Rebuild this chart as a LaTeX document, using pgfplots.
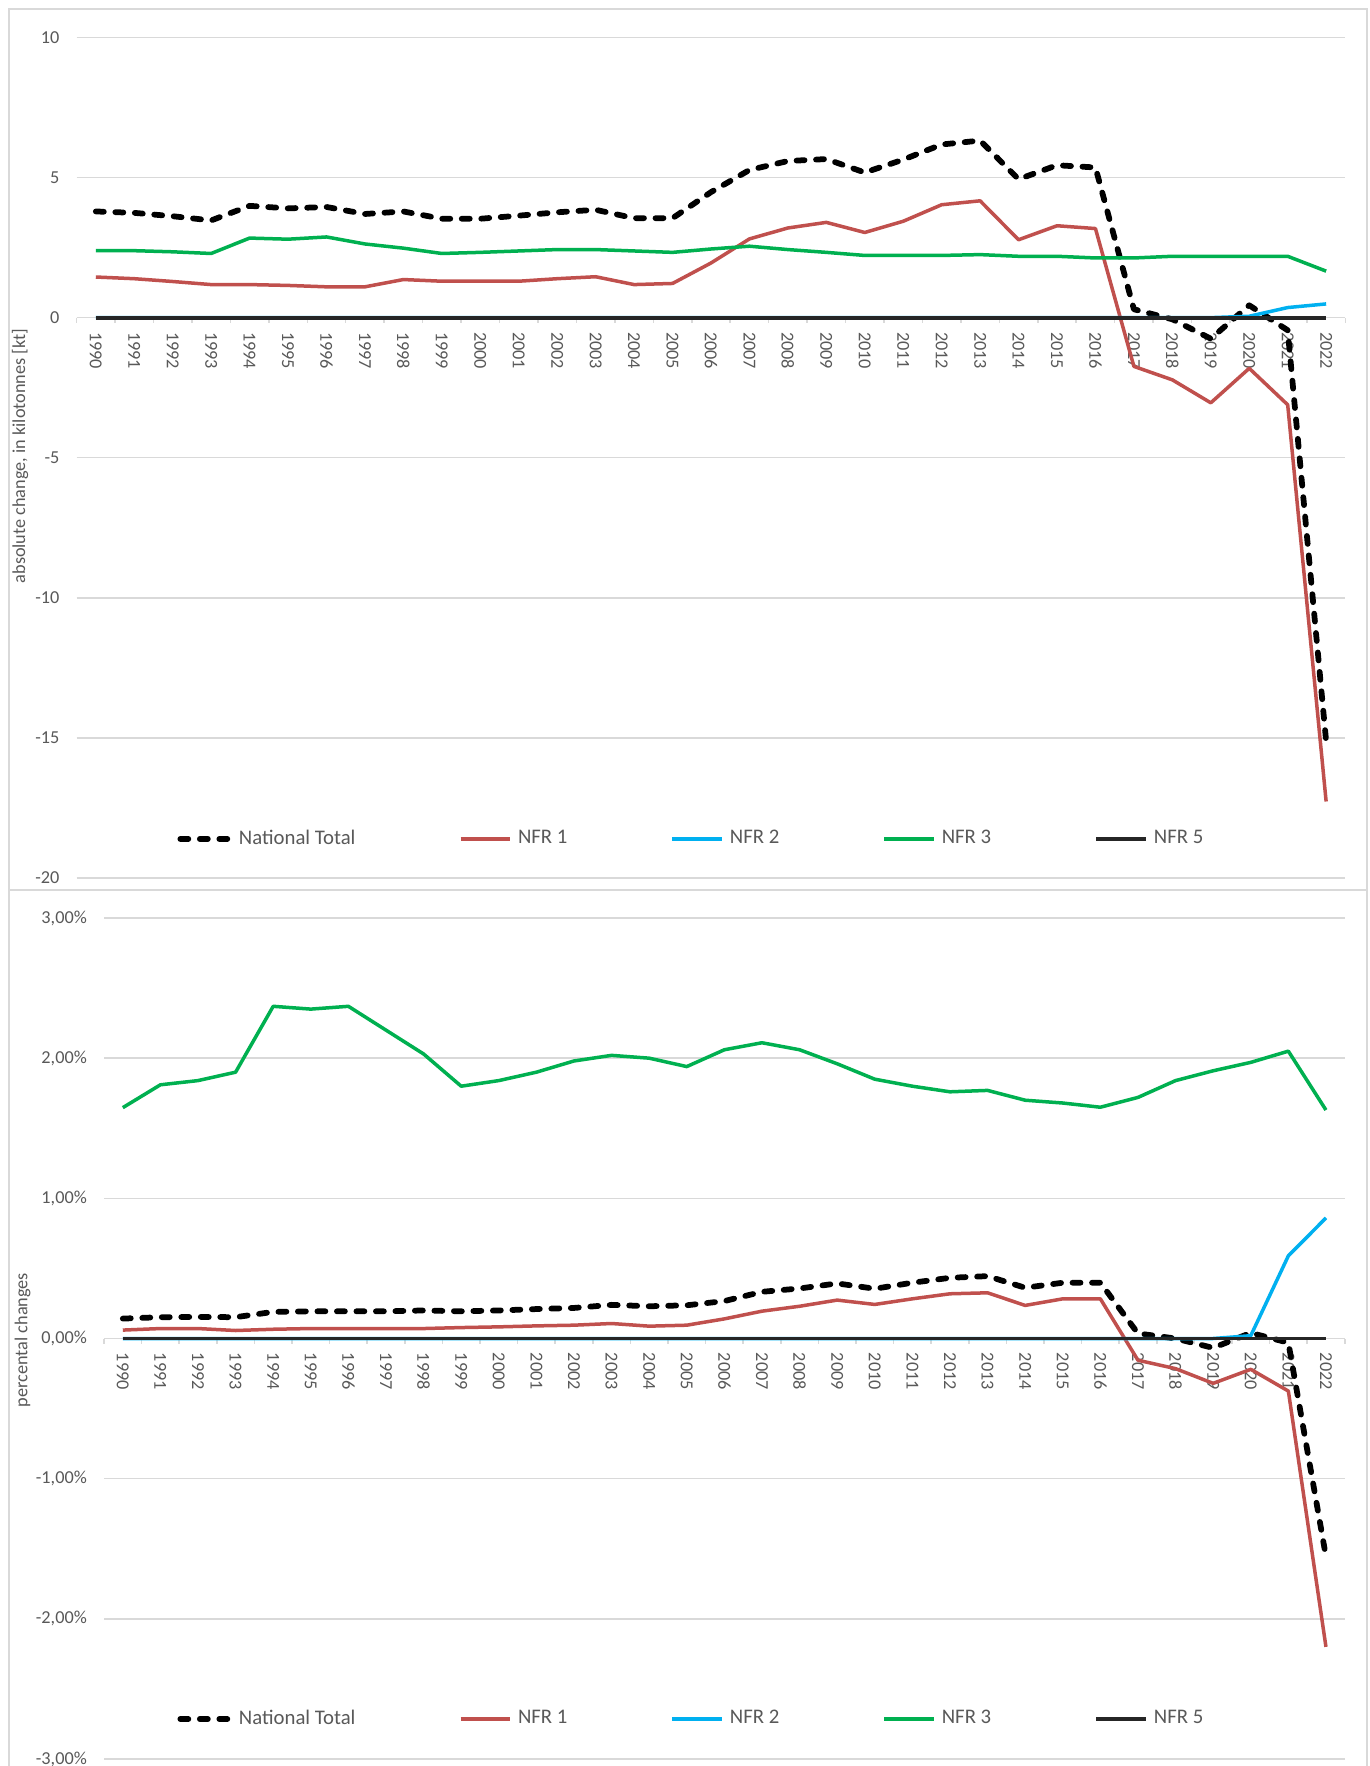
\documentclass[border=0pt]{standalone}
\usepackage{fontspec}
\setmainfont{Carlito}
\usepackage{pgfplots}
\usepackage{pgfplotstable}
\pgfplotsset{compat=1.18}
\definecolor{txt}{HTML}{595959}
\definecolor{grd}{HTML}{D9D9D9}
\definecolor{nfra}{HTML}{C0504D}
\definecolor{nfrb}{HTML}{00B0F0}
\definecolor{nfrc}{HTML}{00B050}
\definecolor{nfre}{HTML}{262626}

\pgfplotstableread{
i nt n1 n2 n3 n5
0 3.79 1.45 0 2.39 0
1 3.74 1.39 0 2.39 0
2 3.62 1.29 0 2.35 0
3 3.47 1.18 0 2.29 0
4 3.99 1.18 0 2.84 0
5 3.90 1.15 0 2.80 0
6 3.95 1.10 0 2.88 0
7 3.70 1.10 0 2.63 0
8 3.79 1.36 0 2.48 0
9 3.53 1.30 0 2.29 0
10 3.53 1.30 0 2.33 0
11 3.64 1.30 0 2.38 0
12 3.76 1.39 0 2.43 0
13 3.85 1.46 0 2.43 0
14 3.55 1.18 0 2.38 0
15 3.55 1.22 0 2.33 0
16 4.48 1.95 0 2.45 0
17 5.27 2.81 0 2.55 0
18 5.59 3.20 0 2.43 0
19 5.66 3.40 0 2.33 0
20 5.18 3.04 0 2.22 0
21 5.64 3.44 0 2.22 0
22 6.18 4.03 0 2.22 0
23 6.32 4.17 0 2.25 0
24 4.94 2.78 0 2.19 0
25 5.44 3.28 0 2.19 0
26 5.36 3.18 0 2.13 0
27 0.30 -1.74 0 2.13 0
28 -0.06 -2.22 0 2.19 0
29 -0.75 -3.04 0 2.19 0
30 0.44 -1.81 0.05 2.19 0
31 -0.45 -3.11 0.36 2.19 0
32 -15.12 -17.27 0.49 1.66 0
}\topdata

\pgfplotstableread{
i nt n1 n2 n3 n5
0 0.142 0.060 0 1.647 0
1 0.152 0.071 0 1.81 0
2 0.154 0.071 0 1.84 0
3 0.152 0.057 0 1.90 0
4 0.190 0.066 0 2.37 0
5 0.194 0.071 0 2.35 0
6 0.194 0.071 0 2.37 0
7 0.194 0.071 0 2.20 0
8 0.200 0.071 0 2.03 0
9 0.194 0.078 0 1.80 0
10 0.200 0.083 0 1.84 0
11 0.210 0.090 0 1.90 0
12 0.218 0.095 0 1.98 0
13 0.240 0.107 0 2.02 0
14 0.230 0.088 0 2.00 0
15 0.237 0.095 0 1.94 0
16 0.267 0.140 0 2.06 0
17 0.333 0.195 0 2.11 0
18 0.357 0.230 0 2.06 0
19 0.393 0.274 0 1.96 0
20 0.355 0.243 0 1.85 0
21 0.398 0.283 0 1.80 0
22 0.433 0.319 0 1.76 0
23 0.445 0.326 0 1.77 0
24 0.362 0.236 0 1.70 0
25 0.398 0.283 0 1.68 0
26 0.398 0.283 0 1.65 0
27 0.036 -0.155 0 1.72 0
28 0.000 -0.215 0 1.84 0
29 -0.067 -0.320 0 1.91 0
30 0.040 -0.220 0.02 1.97 0
31 -0.030 -0.375 0.59 2.05 0
32 -1.556 -2.200 0.86 1.63 0
}\botdata

\pgfplotsset{
  mychart/.style={
    scale only axis,
    xmin=-0.5, xmax=32.5,
    axis x line=middle, axis y line=left,
    x axis line style={-, draw=grd, line width=0.6pt},
    y axis line style={draw=none},
    hide obscured x ticks=false, hide obscured y ticks=false,
    xtick={0,...,32},
    xticklabels={1990,1991,1992,1993,1994,1995,1996,1997,1998,1999,2000,2001,2002,2003,2004,2005,2006,2007,2008,2009,2010,2011,2012,2013,2014,2015,2016,2017,2018,2019,2020,2021,2022},
    major x tick style={draw=none},
    minor xtick={-0.5,0.5,...,32.5},
    minor x tick style={draw=grd, line width=0.6pt},
    minor tick length=2pt,
    tick align=outside,
    xticklabel style={yshift=-1.3pt, rotate=-90, anchor=west, font=\fontsize{7.3pt}{8pt}\selectfont, text=txt, inner sep=0pt},
    ymajorgrids, grid style={draw=grd, line width=0.6pt},
    ytick style={draw=none},
    yticklabel style={font=\fontsize{7.3pt}{8pt}\selectfont, text=txt, inner sep=0pt, xshift=-2.4pt},
    legend columns=5,
    legend image code/.code={\draw[##1] (0pt,0pt) -- (19.8pt,0pt);},
    legend style={draw=none, fill=none, inner sep=0pt, anchor=west,
      font=\fontsize{8.3pt}{9pt}\selectfont, text=txt,
      nodes={inner xsep=0pt},
      /tikz/every odd column/.append style={column sep=2.5pt},
      /tikz/every even column/.append style={column sep=41.3pt}},
    legend cell align=left,
  },
  nt/.style={black, line width=2.3pt, dash pattern=on 3.2pt off 4.6pt, line cap=round, line join=round},
  s1/.style={nfra, line width=1.4pt, line join=round},
  s2/.style={nfrb, line width=1.4pt, line join=round},
  s3/.style={nfrc, line width=1.4pt, line join=round},
  s5/.style={nfre, line width=1.5pt, line join=round},
}

\begin{document}
\begin{tikzpicture}
\path[use as bounding box] (0pt,0pt) rectangle (548pt,706.4pt);
\fill[white] (0pt,0pt) rectangle (548pt,706.4pt);
\draw[grd, line width=0.8pt] (3.6pt,702.8pt) rectangle (546.6pt,350.4pt);
\draw[grd, line width=0.8pt] (3.6pt,350.4pt) -- (3.6pt,-2pt);
\draw[grd, line width=0.8pt] (546.6pt,350.4pt) -- (546.6pt,-2pt);

\begin{axis}[mychart, at={(30.64pt,355.2pt)}, anchor=south west,
  width=507.5pt, height=336.2pt,
  ymin=-20, ymax=10, ytick={-20,-15,-10,-5,0,5,10},
  yticklabels={-20,-15,-10,-5,0,5,10},
  legend style={at={(0.0791,0.0465)}}]
\addplot[nt] table[x=i,y=nt]{\topdata};
\addlegendentry{National Total}
\addplot[s1] table[x=i,y=n1]{\topdata};
\addlegendentry{NFR 1}
\addplot[s2] table[x=i,y=n2]{\topdata};
\addlegendentry{NFR 2}
\addplot[s3] table[x=i,y=n3]{\topdata};
\addlegendentry{NFR 3}
\addplot[s5] table[x=i,y=n5]{\topdata};
\addlegendentry{NFR 5}
\end{axis}

\begin{axis}[mychart, at={(41.6pt,2.8pt)}, anchor=south west,
  width=496.3pt, height=336.4pt,
  ymin=-3, ymax=3, ytick={-3,-2,-1,0,1,2,3},
  yticklabels={{-3,00\%},{-2,00\%},{-1,00\%},{0,00\%},{1,00\%},{2,00\%},{3,00\%}},
  legend style={at={(0.0588,0.0475)}}]
\addplot[nt] table[x=i,y=nt]{\botdata};
\addlegendentry{National Total}
\addplot[s1] table[x=i,y=n1]{\botdata};
\addlegendentry{NFR 1}
\addplot[s2] table[x=i,y=n2]{\botdata};
\addlegendentry{NFR 2}
\addplot[s3] table[x=i,y=n3]{\botdata};
\addlegendentry{NFR 3}
\addplot[s5] table[x=i,y=n5]{\botdata};
\addlegendentry{NFR 5}
\end{axis}

\node[rotate=90, font=\fontsize{7.3pt}{8pt}\selectfont, text=txt] at (8pt,524pt) {absolute change, in kilotonnes [kt]};
\node[rotate=90, font=\fontsize{7.3pt}{8pt}\selectfont, text=txt] at (9pt,170.4pt) {percental changes};
\end{tikzpicture}
\end{document}
